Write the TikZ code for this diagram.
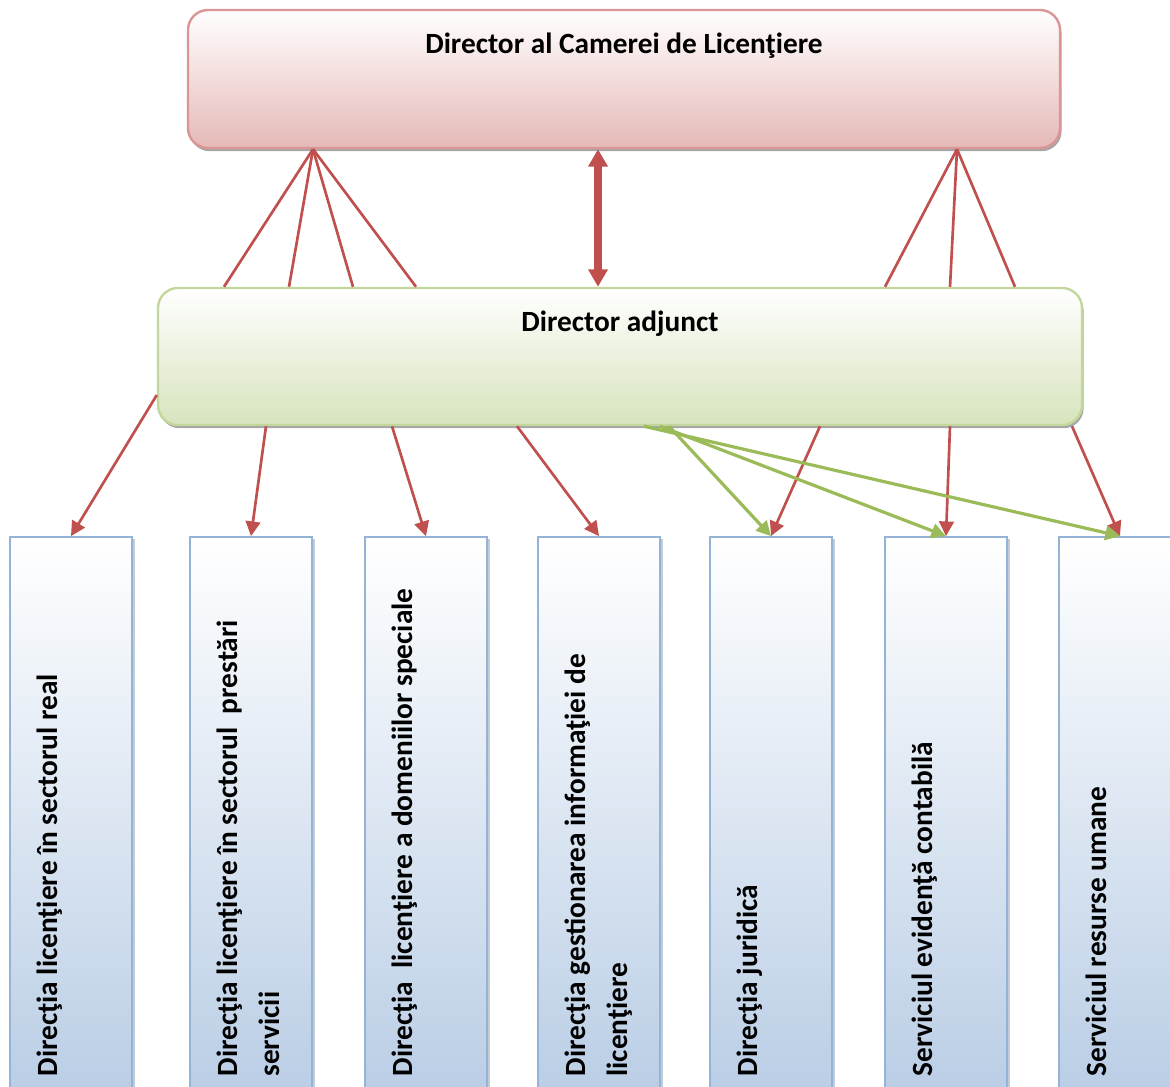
\documentclass[tikz,border=0pt]{standalone}
\usepackage{fontspec}
\setmainfont{Carlito}
\usetikzlibrary{arrows.meta,shadows}

\definecolor{redline}{HTML}{C0504D}
\definecolor{greenline}{HTML}{9BBB59}
\definecolor{pinkfill}{HTML}{E5B9B7}
\definecolor{pinkdraw}{HTML}{D99694}
\definecolor{greenfill}{HTML}{D7E4BD}
\definecolor{greendraw}{HTML}{C3D69B}
\definecolor{bluefill}{HTML}{B9CDE5}
\definecolor{bluedraw}{HTML}{95B3D7}

\tikzstyle{chief}=[draw=pinkdraw, line width=0.9pt, rounded corners=7.5pt, top color=white, bottom color=pinkfill,
  minimum width=327pt, minimum height=51.75pt, drop shadow={shadow xshift=0.6pt, shadow yshift=-1.2pt, opacity=0.35, fill=black}]
\tikzstyle{deputy}=[chief, draw=greendraw, bottom color=greenfill, minimum width=346.5pt, minimum height=51.4pt]
\tikzstyle{title}=[anchor=base, inner sep=0pt, yshift=-16.9pt, font=\bfseries\fontsize{11}{16}\selectfont]
\tikzstyle{unit}=[draw=bluedraw, line width=0.8pt, top color=white, bottom color=bluefill, minimum width=45.75pt,
  minimum height=211pt, drop shadow={shadow xshift=1pt, shadow yshift=-0.8pt, opacity=0.4, fill=bluedraw!70!black}]
\tikzstyle{unittext}=[rotate=90, anchor=north west, inner sep=0pt, align=left, font=\bfseries\fontsize{11}{16}\selectfont]
\tikzstyle{link}=[redline, line width=1pt]
\tikzstyle{arr}=[link, -{Triangle[length=5.5pt,width=5.5pt]}]
\tikzstyle{garr}=[greenline, line width=1.2pt, -{Triangle[length=5.5pt,width=5.5pt]}]
\tikzstyle{dbl}=[redline, line width=2.8pt, {Triangle[length=6.5pt,width=7pt]}-{Triangle[length=6.5pt,width=7pt]}]

\begin{document}
\begin{tikzpicture}[x=0.375pt,y=-0.375pt]
\useasboundingbox (0,0) rectangle (1170,1087);
\clip (0,0) rectangle (1170,1087);

\node[chief, label={[title]north:Director al Camerei de Licenţiere}] (dir) at (624,79) {};
\node[deputy, label={[title]north:Director adjunct}] (adj) at (620,356.5) {};

\foreach \x/\n/\t in {71/real/{Direcţia licenţiere în sectorul real},
    251/serv/{Direcţia licenţiere în sectorul\ \ prestări\\servicii},
    426/spec/{Direcţia\ \ licenţiere a domeniilor speciale},
    599/info/{Direcţia gestionarea informaţiei de\\licenţiere},
    771/jur/{Direcţia juridică},
    946/cont/{Serviciul evidenţă contabilă},
    1120/res/{Serviciul resurse umane}}{% units
    \node[unit] (\n) at (\x,818.5) {};
    \node[unittext] (\n-t) at (\x-35,1077) {\t};
}

% director -> deputy
\coordinate (fanL) at (dir.south -| 313,0);
\coordinate (fanR) at (dir.south -| 957,0);
\foreach \x in {224,289,353,416}
    \draw[link] (fanL) -- (adj.north -| \x,0);
\foreach \x in {885,950,1015}
    \draw[link] (fanR) -- (adj.north -| \x,0);
\draw[dbl] (dir.south -| 598,0) -- (adj.north -| 598,0);

% deputy -> units
\draw[arr] (adj.west |- 0,395) -- (real.north);
\foreach \s/\b in {266/serv,392/spec,517/info,820/jur,950/cont}
    \draw[arr] (adj.south -| \s,0) -- (\b.north);
\draw[arr] (adj.south -| 1072,0) -- (res.north);
\foreach \s/\b in {669/jur,660/cont,644/res}
    \draw[garr] (adj.south -| \s,0) -- (\b.north);

\end{tikzpicture}
\end{document}
